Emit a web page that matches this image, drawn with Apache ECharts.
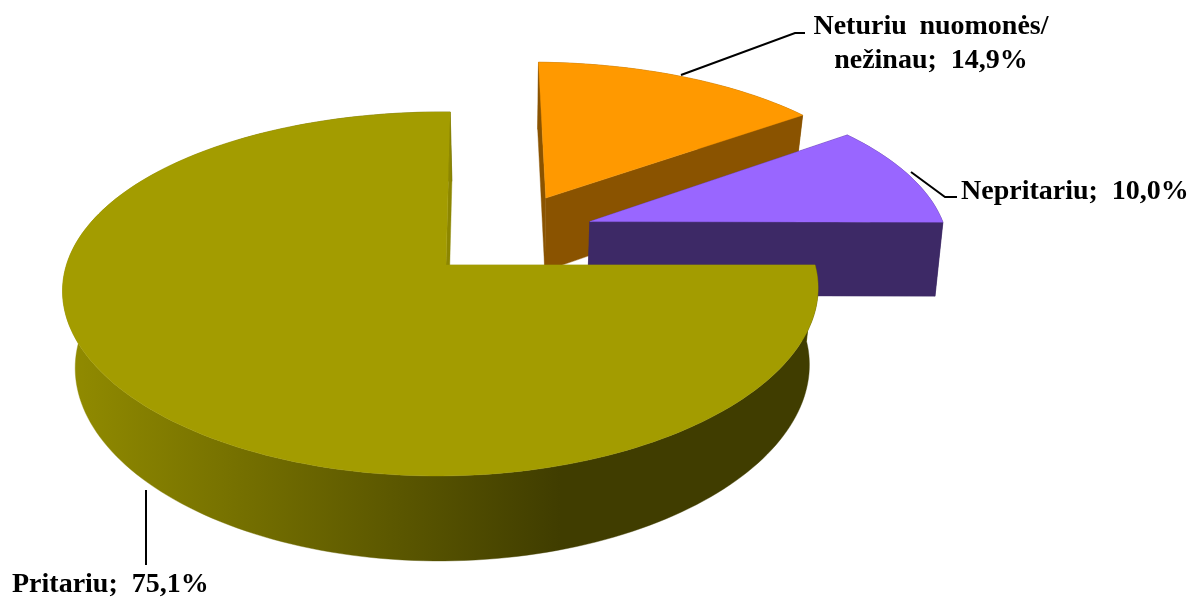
<!DOCTYPE html>
<html>
<head>
<meta charset="utf-8">
<style>html,body{margin:0;padding:0;background:#fff}#c{width:1195px;height:597px}</style>
<script src="https://cdn.jsdelivr.net/npm/echarts@6/dist/echarts.min.js"></script>
</head>
<body>
<div id="c"></div>
<script>
var categories = ['Pritariu', 'Neturiu \u2009nuomonės/\nnežinau', 'Nepritariu'];
var shares = [75.1, 14.9, 10.0];

// Projection of the tilted pie plane on the page (units: px, radius = 1 in the world).
var VIEW = { apexX: 446, apexY: 265, vanishX: 464, rx: 374, ry: 177.4, k: 0.159, kx: 0.135, g: 0.014, explodeU: 0.2397, explodeS: 0.2526 };
var TOPS = ['#A39C00', '#FF9900', '#9966FF'];
var SIDES = [
  { type: 'linear', x: 70, y: 0, x2: 560, y2: 0, global: true,
    colorStops: [{ offset: 0, color: '#918B00' }, { offset: 1, color: '#403D00' }] },
  '#8A5300', '#3D2966'
];
var EDGE = ['#8C8600', '#8A5300', '#3D2966'];
var DEPTH = [
  { x0: 510, shrink: 0.0283 },
  { x0: 510, shrink: 0.0283 },
  { x0: 429, shrink: 0.0154 }
];
var LAYER = [30, 10, 20];
var LABELS = [
  { x: 12, y: 571, align: 'left', line: [[146, 490], [146, 565]] },
  { x: 931, y: 13, align: 'center', line: [[681, 75], [795, 33], [805, 33]] },
  { x: 961, y: 178, align: 'left', line: [[911, 172], [945, 197], [957, 197]] }
];

function labelText(i) {
  var parts = categories[i].split('\n');
  var pct = shares[i].toFixed(1).replace('.', ',') + '%';
  parts[parts.length - 1] += ';  ' + pct;
  return parts;
}

function renderItem(params, api) {
  var i = params.dataIndex;
  var total = shares.reduce(function (a, b) { return a + b; }, 0);
  var before = 0;
  for (var j = 0; j < i; j++) before += shares[j];
  var a0 = Math.PI / 2 + before / total * 2 * Math.PI;
  var a1 = a0 + api.value(0) / total * 2 * Math.PI;
  var mid = (a0 + a1) / 2;
  var V = VIEW, mainMid = Math.PI / 2 + shares[0] / total * Math.PI;

  // centre of this slice in the frame of the first slice
  var cu = V.explodeU * (Math.sin(mid) - Math.sin(mainMid));
  var cs = V.explodeS * (-Math.cos(mid) + Math.cos(mainMid));

  function project(u, s) {
    var wy = 1 - V.k * s + V.g * u;
    var wx = 1 - V.kx * s + V.g * u;
    return [V.vanishX + (V.apexX - V.vanishX + V.rx * u) / wx, V.apexY + V.ry * s / wy];
  }
  function rim(a) { return project(cu + Math.sin(a), cs - Math.cos(a)); }
  function lower(p) {
    var d = DEPTH[i];
    return [p[0] - (p[0] - d.x0) * d.shrink, p[1] + 74 + (p[1] - 221) * 0.0431];
  }

  var arc = [], n = Math.max(8, Math.round((a1 - a0) * 40));
  for (var t = 0; t <= n; t++) arc.push(rim(a0 + (a1 - a0) * t / n));
  var apex = project(cu, cs);
  var z = LAYER[i];
  var children = [];

  function poly(points, fill, zz) {
    children.push({ type: 'polygon', shape: { points: points }, z2: zz,
      style: { fill: fill, stroke: fill, lineWidth: 0.4 }, silent: true });
  }
  poly([apex, arc[0], lower(arc[0]), lower(apex)], EDGE[i], z);
  poly(arc.concat(arc.map(lower).reverse()), SIDES[i], z + 1);
  poly([apex, arc[n], lower(arc[n]), lower(apex)], EDGE[i], z + 2);
  poly([apex].concat(arc), TOPS[i], z + 3);

  var L = LABELS[i];
  children.push({ type: 'polyline', shape: { points: L.line }, z2: 50,
    style: { stroke: '#000', lineWidth: 2, fill: null }, silent: true });
  labelText(i).forEach(function (line, k) {
    children.push({ type: 'text', z2: 51, silent: true,
      style: { x: L.x, y: L.y + k * 34, text: line, fill: '#000', align: L.align, verticalAlign: 'top',
        font: 'bold 28px "Liberation Serif"' } });
  });
  return { type: 'group', children: children };
}

var chart = echarts.init(document.getElementById('c'), null, { renderer: 'canvas' });
chart.setOption({
  animation: false,
  backgroundColor: '#fff',
  series: [{
    type: 'custom',
    coordinateSystem: 'none',
    renderItem: renderItem,
    data: shares.map(function (v, i) { return { value: [v], name: categories[i] }; })
  }]
});
</script>
</body>
</html>
